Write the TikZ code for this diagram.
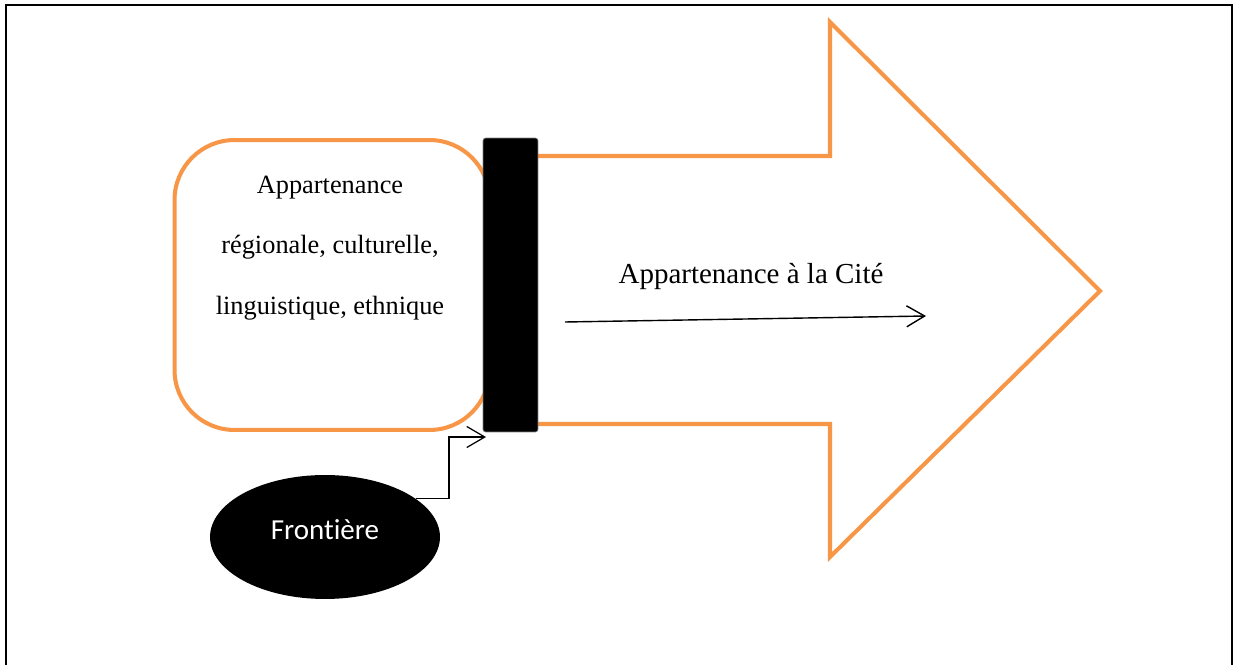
\documentclass[tikz,border=0pt]{standalone}
\usepackage{fontspec}
\setmainfont{Liberation Serif}
\newfontfamily\calib[Ligatures=NoCommon]{Carlito}
\usetikzlibrary{arrows.meta,shapes.geometric}
\definecolor{orangeoff}{RGB}{247,150,70}

\begin{document}
\begin{tikzpicture}[x=0.02cm,y=-0.02cm,
  orangeline/.style={draw=orangeoff, line width=2.3pt},
  barb/.style={-{Straight Barb[length=0.36cm,width=0.42cm]}, line width=0.8pt}]
\useasboundingbox (0,0) rectangle (1235,665);
\draw[line width=1.2pt] (6,665) -- (6,5) -- (1232,5) -- (1232,665);

\draw[orangeline, line join=miter] (520,156) -- (830,156) -- (830,22) -- (1100,291) -- (830,557) -- (830,424) -- (520,424);
\node (groupe) [orangeline, fill=white, rounded corners=1.2cm, minimum width=6.3cm, minimum height=5.8cm] at (332,285) {};
\node (txt) [align=center, font=\fontsize{15}{34.6}\selectfont] at (330,248) {Appartenance\\ régionale, culturelle,\\ linguistique, ethnique};
\node (barre) [fill=black, draw=gray, rounded corners=1.5pt, minimum width=1.1cm, minimum height=5.88cm] at (510.5,285) {};

\node (cite) [font=\fontsize{16.5}{20}\selectfont] at (751,277) {Appartenance à la Cité};
\coordinate (dep) at (565,322);
\coordinate (arr) at (926,316);
\draw[barb] (dep) -- (arr);

\node (front) [ellipse, fill=black, minimum width=4.6cm, minimum height=2.48cm, text=white, font=\calib\fontsize{16.5}{20}\selectfont] at (325,537) {\raisebox{0.28cm}{Frontière}};
\coordinate (coin) at (486,437);
\draw[barb, line width=0.7pt] (front.23) -| (449,437) -- (coin);
\end{tikzpicture}
\end{document}
